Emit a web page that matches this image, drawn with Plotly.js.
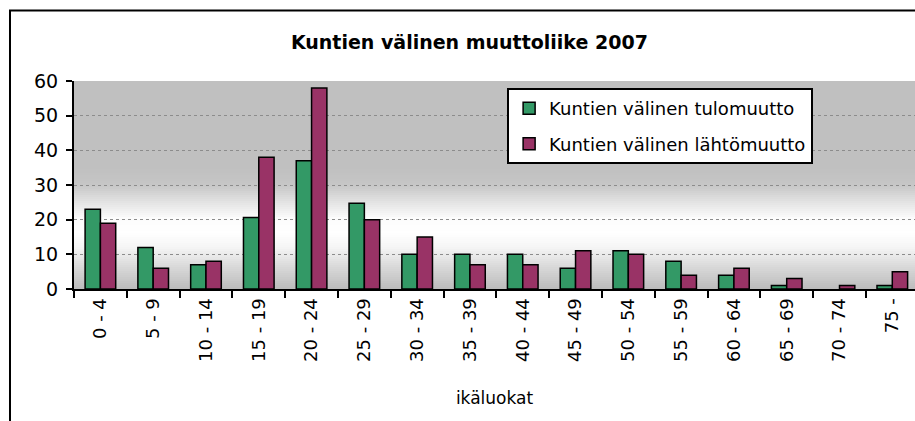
<!DOCTYPE html>
<html>
<head>
<meta charset="utf-8">
<script src="https://cdn.plot.ly/plotly-3.0.1.min.js"></script>
<style>
  html, body { margin: 0; padding: 0; background: #fff; overflow: hidden; }
  #chart { width: 915px; height: 421px; }
</style>
</head>
<body>
<div id="chart"></div>
<script>
// Age groups on the x-axis
const ageGroups = ["0 - 4", "5 - 9", "10 - 14", "15 - 19", "20 - 24", "25 - 29", "30 - 34", "35 - 39",
    "40 - 44", "45 - 49", "50 - 54", "55 - 59", "60 - 64", "65 - 69", "70 - 74", "75 -"];

// Migration between municipalities (no bar drawn for 70 - 74 arrivals)
const tulomuutto = [23, 12, 7, 20.6, 37, 24.7, 10, 10, 10, 6, 11, 8, 4, 1, null, 1];
const lahtomuutto = [19, 6, 8, 38, 58, 20, 15, 7, 7, 11, 10, 4, 6, 3, 1, 5];

const seriesNames = ["Kuntien välinen tulomuutto", "Kuntien välinen lähtömuutto"];
const seriesColors = ["#339966", "#993366"];

const font = "DejaVu Sans, Verdana, sans-serif";

const traces = [tulomuutto, lahtomuutto].map((values, i) => ({
    type: 'bar',
    x: ageGroups,
    y: values,
    name: seriesNames[i],
    legendgroup: 'g' + i,
    marker: { color: seriesColors[i], line: { color: '#000', width: 1.5 } },
    hoverinfo: 'x+y+name'
}));

// Grey - white - grey vertical gradient behind the bars
const gradientStops = [
    [0.00, 188], [0.10, 215], [0.20, 245], [0.27, 255], [0.34, 252],
    [0.42, 226], [0.50, 198], [0.58, 192], [1.00, 192]
];
function greyAt(t) {
    for (let k = 1; k < gradientStops.length; k++) {
        const [t1, c1] = gradientStops[k];
        const [t0, c0] = gradientStops[k - 1];
        if (t <= t1) return Math.round(c0 + (c1 - c0) * (t - t0) / (t1 - t0));
    }
    return 192;
}
const bgShapes = [];
const strips = 104;
for (let s = 0; s < strips; s++) {
    const g = greyAt((s + 0.5) / strips);
    bgShapes.push({
        type: 'rect', xref: 'x domain', yref: 'y domain', layer: 'below',
        x0: 0, x1: 1, y0: s / strips, y1: (s + 1.02) / strips,
        fillcolor: `rgb(${g},${g},${g})`, line: { width: 0 }
    });
}

// Outer chart frame (cut off on the right and bottom, as in the original)
const frame = {
    type: 'rect', xref: 'paper', yref: 'paper', layer: 'above',
    x0: -0.0761, x1: 1.5, y0: -1.5, y1: 1.339,
    line: { color: '#000', width: 2 }, fillcolor: 'rgba(0,0,0,0)'
};

const layout = {
    width: 915,
    height: 421,
    margin: { l: 74, r: 0, t: 81, b: 132 },
    paper_bgcolor: '#fff',
    plot_bgcolor: 'rgba(0,0,0,0)',
    font: { family: font, color: '#000', size: 18 },
    title: {
        text: '<b>Kuntien välinen muuttoliike 2007</b>',
        font: { family: font, size: 19, color: '#000' },
        x: 0.513, xanchor: 'center', y: 0.9, yanchor: 'middle'
    },
    barmode: 'group',
    bargap: 0.42,
    bargroupgap: 0,
    xaxis: {
        type: 'category',
        range: [-0.5, 15.43],
        tickson: 'boundaries',
        ticks: 'outside', ticklen: 7, tickwidth: 2, tickcolor: '#000',
        tickangle: -90,
        tickfont: { family: font, size: 18 },
        showline: true, linecolor: '#000', linewidth: 2,
        showgrid: false,
        title: { text: 'ikäluokat', font: { family: font, size: 17 }, standoff: 31 },
        automargin: false
    },
    yaxis: {
        range: [0, 60],
        dtick: 10,
        ticks: 'outside', ticklen: 6, tickwidth: 2, tickcolor: '#000',
        tickfont: { family: font, size: 19 },
        ticklabelstandoff: 4,
        showline: true, linecolor: '#000', linewidth: 2,
        showgrid: true, gridcolor: '#8c8c8c', gridwidth: 1, griddash: 'dot',
        zeroline: false,
        automargin: false
    },
    legend: {
        x: 0.515, xanchor: 'left', y: 0.966, yanchor: 'top',
        bgcolor: '#fff', bordercolor: '#000', borderwidth: 2,
        font: { family: font, size: 18 },
        tracegroupgap: 9,
        traceorder: 'grouped'
    },
    shapes: bgShapes.concat([frame]),
    showlegend: true
};

Plotly.newPlot('chart', traces, layout, { displayModeBar: false, staticPlot: true });
</script>
</body>
</html>
